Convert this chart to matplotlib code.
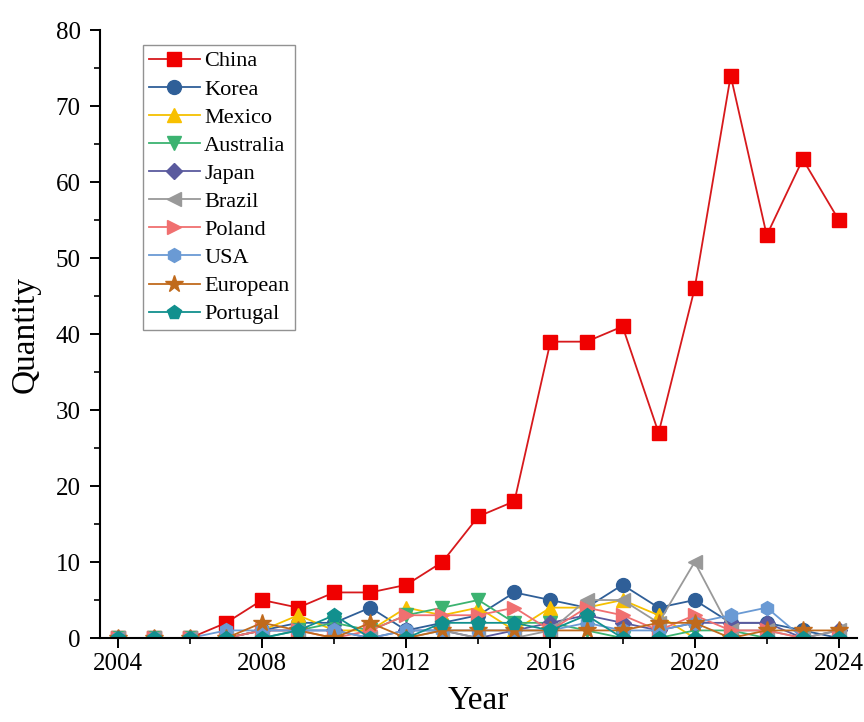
import numpy as np
import matplotlib.pyplot as plt

plt.rcParams['font.family'] = ['Liberation Serif', 'DejaVu Serif']

years = list(range(2004, 2025))

china = [0, 0, 0, 2, 5, 4, 6, 6, 7, 10, 16, 18, 39, 39, 41, 27, 46, 74, 53, 63, 55]
korea = [0, 0, 0, 0, 1, 2, 2, 4, 1, 2, 3, 6, 5, 4, 7, 4, 5, 2, 2, 1, 0]
mexico = [0, 0, 0, 0, 1, 3, 1, 1, 4, 3, 4, 1, 4, 4, 5, 3, 0, 0, 0, 0, 0]
australia = [0, 0, 0, 0, 0, 1, 2, 1, 3, 4, 5, 2, 2, 1, 0, 0, 1, 1, 0, 0, 0]
japan = [0, 0, 0, 0, 1, 1, 1, 0, 1, 1, 0, 1, 2, 3, 2, 1, 2, 2, 2, 0, 1]
brazil = [0, 0, 0, 0, 0, 0, 0, 0, 0, 1, 0, 0, 1, 5, 5, 2, 10, 1, 1, 0, 1]
poland = [0, 0, 0, 0, 1, 1, 0, 1, 3, 3, 3, 4, 1, 4, 3, 1, 3, 1, 1, 0, 0]
usa = [0, 0, 0, 1, 1, 1, 1, 0, 1, 1, 1, 1, 1, 2, 1, 1, 2, 3, 4, 0, 0]
european = [0, 0, 0, 0, 2, 1, 0, 2, 0, 1, 1, 1, 1, 1, 1, 2, 2, 0, 1, 1, 1]
portugal = [0, 0, 0, 0, 0, 1, 3, 0, 0, 2, 2, 2, 1, 3, 0, 0, 0, 0, 0, 0, 0]

series = [
    ("China", china, "s", "#D7191C", "#F00000"),
    ("Korea", korea, "o", "#2F5F98", "#2F5F98"),
    ("Mexico", mexico, "^", "#F5C000", "#F8C000"),
    ("Australia", australia, "v", "#3CB371", "#3CB371"),
    ("Japan", japan, "D", "#5A5A9E", "#5A5A9E"),
    ("Brazil", brazil, "<", "#999999", "#999999"),
    ("Poland", poland, ">", "#F07070", "#F07070"),
    ("USA", usa, "h", "#6A9AD4", "#6A9AD4"),
    ("European", european, "*", "#C06A1C", "#C06A1C"),
    ("Portugal", portugal, "p", "#11908E", "#11908E"),
]

fig = plt.figure(figsize=(8.64, 7.22), dpi=100)
ax = fig.add_axes([0.1157, 0.1163, 0.876, 0.842])

for name, vals, mk, lc, mc in series:
    ms = 10
    if mk == "D":
        ms = 8
    elif mk == "*":
        ms = 13
    ax.plot(years, vals, color=lc, marker=mk, markersize=ms,
            markerfacecolor=mc, markeredgecolor=mc, linewidth=1.3,
            label=name)

ax.set_xlim(2003.5, 2024.5)
ax.set_ylim(0, 80)
ax.set_xticks(range(2004, 2025, 4))
ax.set_xticks(range(2006, 2025, 4), minor=True)
ax.set_yticks(range(0, 81, 10))
ax.set_yticks(range(5, 80, 10), minor=True)
ax.tick_params(which='major', direction='out', length=7, width=1.4, labelsize=18)
ax.tick_params(axis='y', which='major', pad=7)
ax.tick_params(which='minor', direction='out', length=4, width=1.2)

for s in ['top', 'right']:
    ax.spines[s].set_visible(False)
for s in ['left', 'bottom']:
    ax.spines[s].set_linewidth(1.5)

ax.set_xlabel("Year", fontsize=24, labelpad=8)
ax.set_ylabel("Quantity", fontsize=24, labelpad=11)

leg = ax.legend(loc='upper left', bbox_to_anchor=(0.057, 0.975), fontsize=16,
                frameon=True, fancybox=False, edgecolor='#777777',
                handlelength=2.3, labelspacing=0.34, borderpad=0.25,
                handletextpad=0.2, borderaxespad=0.0)
leg.get_frame().set_linewidth(1.0)

fig.savefig("out.png", dpi=100)
